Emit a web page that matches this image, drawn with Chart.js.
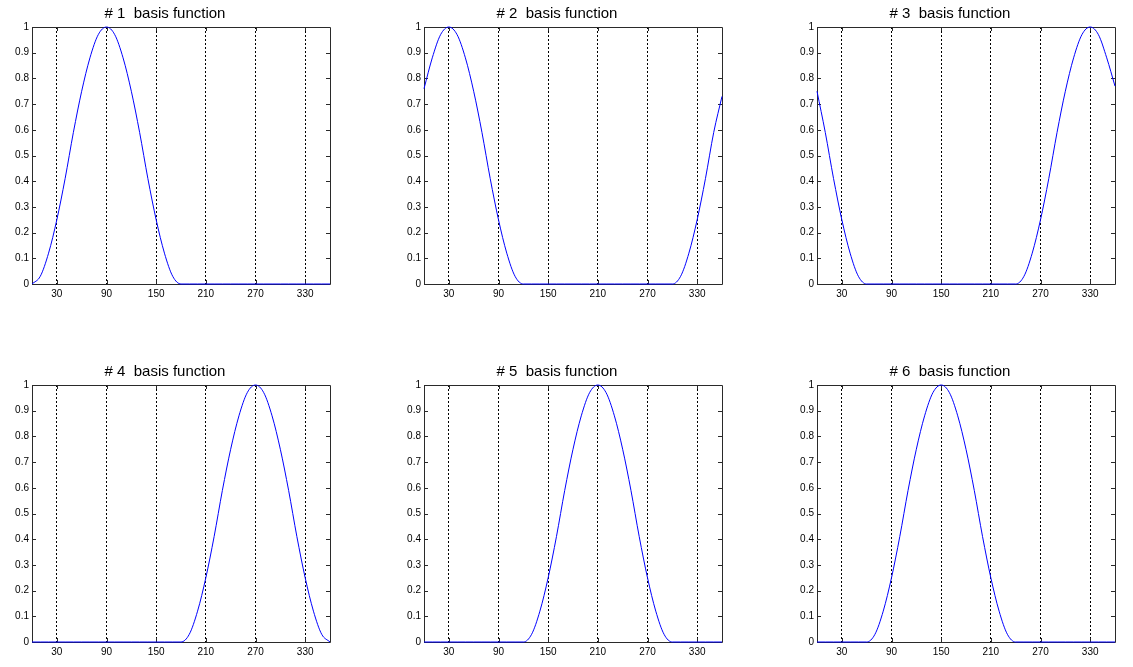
<!DOCTYPE html>
<html>
<head>
<meta charset="utf-8">
<script src="https://cdn.jsdelivr.net/npm/chart.js@4.4.0/dist/chart.umd.min.js"></script>
<style>
  html, body { margin: 0; padding: 0; background: #fff; }
  body { width: 1133px; height: 667px; position: relative; overflow: hidden; }
  canvas { position: absolute; }
</style>
</head>
<body>
<canvas id="c1" width="340" height="304" style="left:0px;top:0px"></canvas>
<canvas id="c2" width="340" height="304" style="left:392px;top:0px"></canvas>
<canvas id="c3" width="340" height="304" style="left:785px;top:0px"></canvas>
<canvas id="c4" width="340" height="304" style="left:0px;top:358px"></canvas>
<canvas id="c5" width="340" height="304" style="left:392px;top:358px"></canvas>
<canvas id="c6" width="340" height="304" style="left:785px;top:358px"></canvas>
<script>
// ---- data ----
const angles = [0,10,20,30,40,50,60,70,80,90,100,110,120,130,140,150,160,170,180,
                190,200,210,220,230,240,250,260,270,280,290,300,310,320,330,340,350,360];

const basis1 = [0,0.03,0.12,0.25,0.41,0.59,0.75,0.88,0.97,1,0.97,0.88,0.75,0.59,0.41,0.25,0.12,0.03,0,
                0,0,0,0,0,0,0,0,0,0,0,0,0,0,0,0,0,0];
const basis2 = [0.76,0.88,0.97,1,0.97,0.88,0.75,0.59,0.41,0.25,0.12,0.03,0,
                0,0,0,0,0,0,0,0,0,0,0,0,0,0,0,0,0,
                0,0.03,0.12,0.25,0.41,0.59,0.73];
const basis3 = [0.75,0.59,0.41,0.25,0.12,0.03,0,
                0,0,0,0,0,0,0,0,0,0,0,0,0,0,0,0,0,
                0,0.03,0.12,0.25,0.41,0.59,0.75,0.88,0.97,1,0.97,0.88,0.77];
const basis4 = [0,0,0,0,0,0,0,0,0,0,0,0,0,0,0,0,0,0,0,
                0.03,0.12,0.25,0.41,0.59,0.75,0.88,0.97,1,0.97,0.88,0.75,0.59,0.41,0.25,0.12,0.03,0];
const basis5 = [0,0,0,0,0,0,0,0,0,0,0,0,0,
                0.03,0.12,0.25,0.41,0.59,0.75,0.88,0.97,1,0.97,0.88,0.75,0.59,0.41,0.25,0.12,0.03,
                0,0,0,0,0,0,0];
const basis6 = [0,0,0,0,0,0,0,
                0.03,0.12,0.25,0.41,0.59,0.75,0.88,0.97,1,0.97,0.88,0.75,0.59,0.41,0.25,0.12,0.03,
                0,0,0,0,0,0,0,0,0,0,0,0,0];

const titles = ['# 1  basis function','# 2  basis function','# 3  basis function',
                '# 4  basis function','# 5  basis function','# 6  basis function'];

const xTicks = [30,90,150,210,270,330];
const xTickLabels = ['30','90','150','210','270','330'];
const yTicks = [0,0.1,0.2,0.3,0.4,0.5,0.6,0.7,0.8,0.9,1];
const yTickLabels = ['0','0.1','0.2','0.3','0.4','0.5','0.6','0.7','0.8','0.9','1'];

const allSeries = [basis1, basis2, basis3, basis4, basis5, basis6];

// ---- frame + inward tick marks (MATLAB box style) ----
const framePlugin = {
  id: 'frame',
  beforeDatasetsDraw(chart) {
    const {ctx, chartArea: a, scales} = chart;
    ctx.save();
    ctx.strokeStyle = '#2a2a2a';
    ctx.lineWidth = 1;
    ctx.beginPath();
    ctx.rect(Math.round(a.left) + 0.5, Math.round(a.top) + 0.5,
             Math.round(a.right - a.left), Math.round(a.bottom - a.top));
    ctx.stroke();
    const L = 4;
    ctx.beginPath();
    scales.y.ticks.forEach((t, i) => {
      const y = Math.round(scales.y.getPixelForTick(i)) + 0.5;
      ctx.moveTo(a.left, y); ctx.lineTo(a.left + L, y);
      ctx.moveTo(a.right, y); ctx.lineTo(a.right - L, y);
    });
    scales.x.ticks.forEach((t, i) => {
      const x = Math.round(scales.x.getPixelForTick(i)) + 0.5;
      ctx.moveTo(x, a.bottom); ctx.lineTo(x, a.bottom - L);
      ctx.moveTo(x, a.top); ctx.lineTo(x, a.top + L);
    });
    ctx.stroke();
    ctx.restore();
  }
};

const font = 'Liberation Sans, Arial, Helvetica, sans-serif';

allSeries.forEach((series, k) => {
  new Chart(document.getElementById('c' + (k + 1)), {
    type: 'line',
    data: {
      datasets: [{
        data: angles.map((a, i) => ({x: a, y: series[i]})),
        borderColor: '#0000ff',
        borderWidth: 1,
        pointRadius: 0,
        fill: false,
        cubicInterpolationMode: 'monotone',
        clip: 3
      }]
    },
    options: {
      responsive: false,
      animation: false,
      devicePixelRatio: 1,
      layout: { padding: { left: 0, right: 10, top: 0, bottom: 0 } },
      plugins: {
        legend: { display: false },
        tooltip: { enabled: false },
        title: {
          display: true,
          text: titles[k],
          color: '#000',
          font: { family: font, size: 15, weight: 'normal' },
          padding: { top: 5, bottom: 4 }
        }
      },
      scales: {
        x: {
          type: 'linear',
          min: 0, max: 360,
          afterBuildTicks(scale) { scale.ticks = xTicks.map(v => ({value: v})); },
          afterFit(scale) { scale.height = 20; },
          ticks: {
            autoSkip: false, maxRotation: 0, padding: 4,
            color: '#000', font: { family: font, size: 10 },
            callback(v, i) { return xTickLabels[i]; }
          },
          grid: { color: '#000', lineWidth: 1, drawTicks: false },
          border: { display: false, dash: [2, 2] }
        },
        y: {
          type: 'linear',
          min: 0, max: 1,
          afterBuildTicks(scale) { scale.ticks = yTicks.map(v => ({value: v})); },
          afterFit(scale) { scale.width = 32; },
          ticks: {
            autoSkip: false, padding: 3,
            color: '#000', font: { family: font, size: 10 },
            callback(v, i) { return yTickLabels[i]; }
          },
          grid: { drawOnChartArea: false, drawTicks: false },
          border: { display: false }
        }
      }
    },
    plugins: [framePlugin]
  });
});
</script>
</body>
</html>
